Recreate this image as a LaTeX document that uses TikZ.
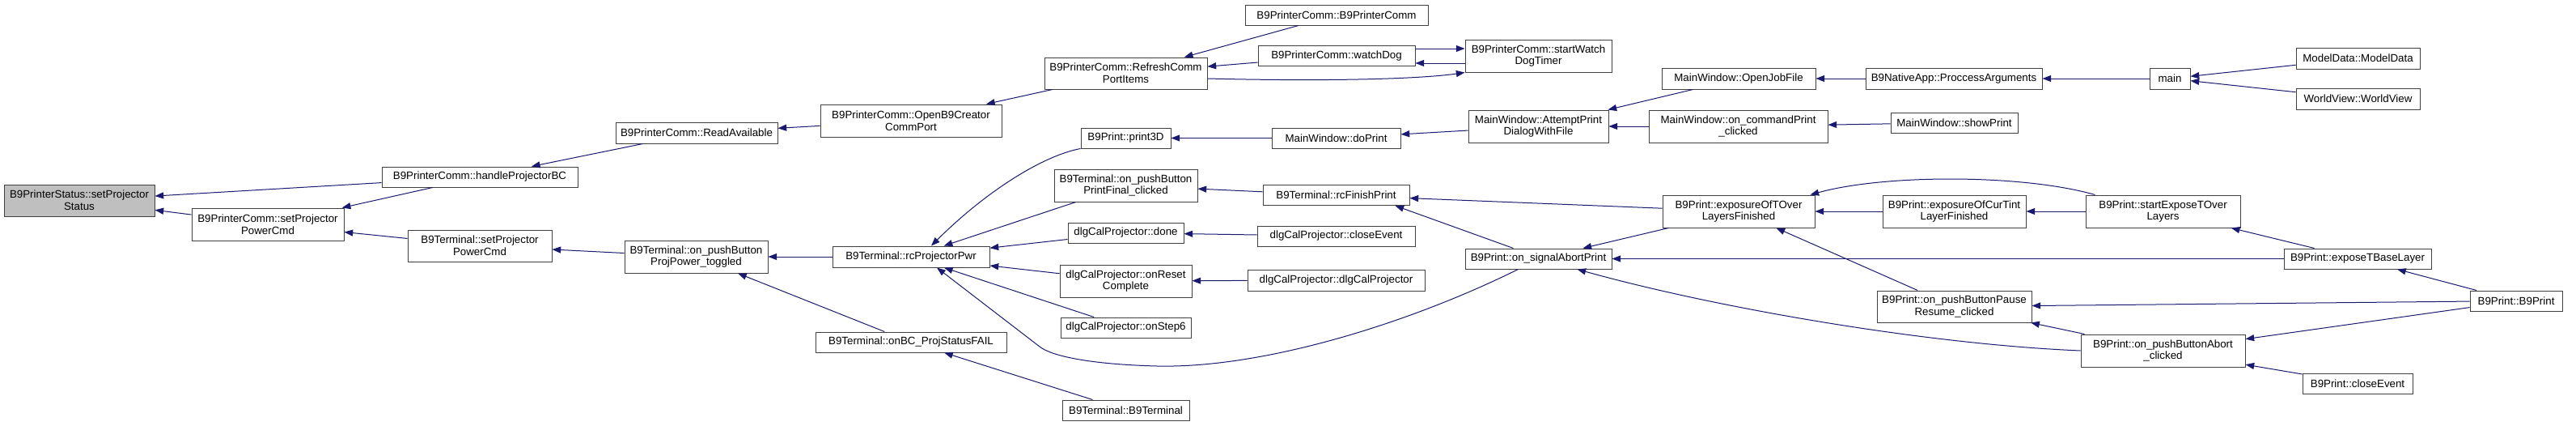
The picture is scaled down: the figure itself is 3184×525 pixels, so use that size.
\documentclass[tikz,border=0pt]{standalone}
\usepackage{fontspec}
\setmainfont{Liberation Sans}
\usetikzlibrary{arrows.meta,calc}
\definecolor{edgecol}{HTML}{191970}
\definecolor{boxline}{HTML}{404040}
\definecolor{rootfill}{HTML}{BFBFBF}
\begin{document}
\begin{tikzpicture}[x=0.75pt,y=-0.75pt,
  box/.style={draw=boxline,line width=0.75pt,fill=white,inner sep=0pt,align=center,font=\fontsize{10}{11}\selectfont,text=black},
  sz/.style 2 args={minimum width=#1*0.75pt,minimum height=#2*0.75pt},
  root/.style={fill=rootfill},
  edge/.style={draw=edgecol,line width=0.75pt,-{Triangle[length=8pt,width=6pt]}}]
\fill[white] (0,0) rectangle (3184,525);
\useasboundingbox (0,0) rectangle (3184,525);
% nodes
\node[box,root,sz={186}{39}] (status) at (98,247.5) {B9PrinterStatus::setProjector\\Status};
\node[box,sz={242}{25}] (handle) at (593,218.5) {B9PrinterComm::handleProjectorBC};
\node[box,sz={188}{40}] (pcSetPwr) at (331,277) {B9PrinterComm::setProjector\\PowerCmd};
\node[box,sz={178}{39}] (tSetPwr) at (593,303.5) {B9Terminal::setProjector\\PowerCmd};
\node[box,sz={200}{26}] (readAvail) at (861,164) {B9PrinterComm::ReadAvailable};
\node[box,sz={224}{40}] (openB9) at (1126,149) {B9PrinterComm::OpenB9Creator\\CommPort};
\node[box,sz={177}{40}] (projPwr) at (860.5,317) {B9Terminal::on\_pushButton\\ProjPower\_toggled};
\node[box,sz={194}{26}] (rcPwr) at (1126,317) {B9Terminal::rcProjectorPwr};
\node[box,sz={236}{25}] (onBC) at (1126,422.5) {B9Terminal::onBC\_ProjStatusFAIL};
\node[box,sz={201}{39}] (refresh) at (1391.5,90.5) {B9PrinterComm::RefreshComm\\PortItems};
\node[box,sz={111}{25}] (print3D) at (1391.5,170.5) {B9Print::print3D};
\node[box,sz={177}{40}] (printFinal) at (1391.5,229) {B9Terminal::on\_pushButton\\PrintFinal\_clicked};
\node[box,sz={143}{25}] (done) at (1391.5,287.5) {dlgCalProjector::done};
\node[box,sz={163}{40}] (onReset) at (1391.5,347) {dlgCalProjector::onReset\\Complete};
\node[box,sz={161}{25}] (onStep) at (1391.5,404.5) {dlgCalProjector::onStep6};
\node[box,sz={157}{25}] (bterm) at (1391.5,506.5) {B9Terminal::B9Terminal};
\node[box,sz={226}{25}] (bpc) at (1652,18.5) {B9PrinterComm::B9PrinterComm};
\node[box,sz={194}{25}] (watchDog) at (1652,69) {B9PrinterComm::watchDog};
\node[box,sz={181}{40}] (startWD) at (1901.5,69) {B9PrinterComm::startWatch\\DogTimer};
\node[box,sz={159}{25}] (doPrint) at (1651.5,170.5) {MainWindow::doPrint};
\node[box,sz={181}{25}] (rcFinish) at (1651.5,241) {B9Terminal::rcFinishPrint};
\node[box,sz={195}{25}] (dlgClose) at (1651.5,291.5) {dlgCalProjector::closeEvent};
\node[box,sz={219}{26}] (dlgCal) at (1651.5,346) {dlgCalProjector::dlgCalProjector};
\node[box,sz={173}{40}] (attempt) at (1901.5,156) {MainWindow::AttemptPrint\\DialogWithFile};
\node[box,sz={181}{25}] (signal) at (1901.5,319.5) {B9Print::on\_signalAbortPrint};
\node[box,sz={190}{26}] (openJob) at (2149,97) {MainWindow::OpenJobFile};
\node[box,sz={221}{40}] (cmdPrint) at (2148.5,156) {MainWindow::on\_commandPrint\\\_clicked};
\node[box,sz={188}{40}] (expTOver) at (2149,261) {B9Print::exposureOfTOver\\LayersFinished};
\node[box,sz={218}{26}] (procArgs) at (2415,97) {B9NativeApp::ProccessArguments};
\node[box,sz={157}{25}] (showPrint) at (2415.5,151.5) {MainWindow::showPrint};
\node[box,sz={177}{40}] (expCur) at (2415.5,261) {B9Print::exposureOfCurTint\\LayerFinished};
\node[box,sz={191}{40}] (startExp) at (2673.5,261) {B9Print::startExposeTOver\\Layers};
\node[box,sz={191}{39}] (pause) at (2415.5,378.5) {B9Print::on\_pushButtonPause\\Resume\_clicked};
\node[box,sz={203}{40}] (abort) at (2673.5,433) {B9Print::on\_pushButtonAbort\\\_clicked};
\node[box,sz={50}{26}] (main) at (2682,97) {main};
\node[box,sz={153}{26}] (modelData) at (2914.5,72) {ModelData::ModelData};
\node[box,sz={153}{26}] (worldView) at (2914.5,122) {WorldView::WorldView};
\node[box,sz={182}{25}] (expBase) at (2914,319.5) {B9Print::exposeTBaseLayer};
\node[box,sz={114}{25}] (b9print) at (3110,371.5) {B9Print::B9Print};
\node[box,sz={136}{25}] (b9close) at (2914,473.5) {B9Print::closeEvent};
% edges (caller -> callee)
\draw[edge] (handle) -- (status);
\draw[edge] (pcSetPwr) -- (status);
\draw[edge] (handle) -- (pcSetPwr);
\draw[edge] (tSetPwr) -- (pcSetPwr);
\draw[edge] (readAvail) -- (handle);
\draw[edge] (openB9) -- (readAvail);
\draw[edge] (refresh) -- (openB9);
\draw[edge] (bpc) -- (refresh);
\draw[edge] (watchDog) -- (refresh);
\draw[edge] ($(refresh.east)+(0,6.5)$) .. controls (1650,101) and (1760,97) .. (startWD.south west);
\draw[edge] ($(watchDog.east)+(0,-9)$) -- ($(startWD.west)+(0,-9)$);
\draw[edge] ($(startWD.west)+(0,9)$) -- ($(watchDog.east)+(0,9)$);
\draw[edge] (projPwr) -- (tSetPwr);
\draw[edge] (rcPwr) -- (projPwr);
\draw[edge] (onBC) -- (projPwr);
\draw[edge] (print3D.south west) .. controls (1290,192) and (1220,235) .. ($(rcPwr.north)+(25,0)$);
\draw[edge] (printFinal) -- (rcPwr);
\draw[edge] (done) -- (rcPwr);
\draw[edge] (onReset) -- (rcPwr);
\draw[edge] (onStep) -- (rcPwr);
\draw[edge] ($(signal.south)+(-25,0)$) .. controls (1740,400) and (1560,455) .. (1430,452) .. controls (1350,450) and (1300,440) .. (1285,428) -- ($(rcPwr.south)+(32,0)$);
\draw[edge] (bterm) -- (onBC);
\draw[edge] (dlgClose) -- (done);
\draw[edge] (dlgCal) -- (onReset);
\draw[edge] (doPrint) -- (print3D);
\draw[edge] (rcFinish) -- (printFinal);
\draw[edge] (attempt) -- (doPrint);
\draw[edge] (expTOver) -- (rcFinish);
\draw[edge] ($(signal.north)+(-31,0)$) -- ($(rcFinish.south)+(73,0)$);
\draw[edge] (openJob) -- (attempt);
\draw[edge] (cmdPrint) -- (attempt);
\draw[edge] (procArgs) -- (openJob);
\draw[edge] (main) -- (procArgs);
\draw[edge] (modelData) -- (main);
\draw[edge] (worldView) -- (main);
\draw[edge] (showPrint) -- (cmdPrint);
\draw[edge] (expCur) -- (expTOver);
\draw[edge] (startExp) -- (expCur);
\draw[edge] ($(startExp.north west)+(12,0)$) .. controls (2500,215) and (2330,215) .. ($(expTOver.north east)+(-6,0)$);
\draw[edge] (expTOver) -- (signal);
\draw[edge] (expBase) -- (signal);
\draw[edge] (abort.west) .. controls (2380,425) and (2120,380) .. ($(signal.south)+(48,0)$);
\draw[edge] (pause) -- (expTOver);
\draw[edge] (expBase) -- (startExp);
\draw[edge] (b9print) -- (expBase);
\draw[edge] (b9print) -- (pause);
\draw[edge] (b9print) -- (abort);
\draw[edge] (abort) -- (pause);
\draw[edge] (b9close) -- (abort);
\end{tikzpicture}
\end{document}
